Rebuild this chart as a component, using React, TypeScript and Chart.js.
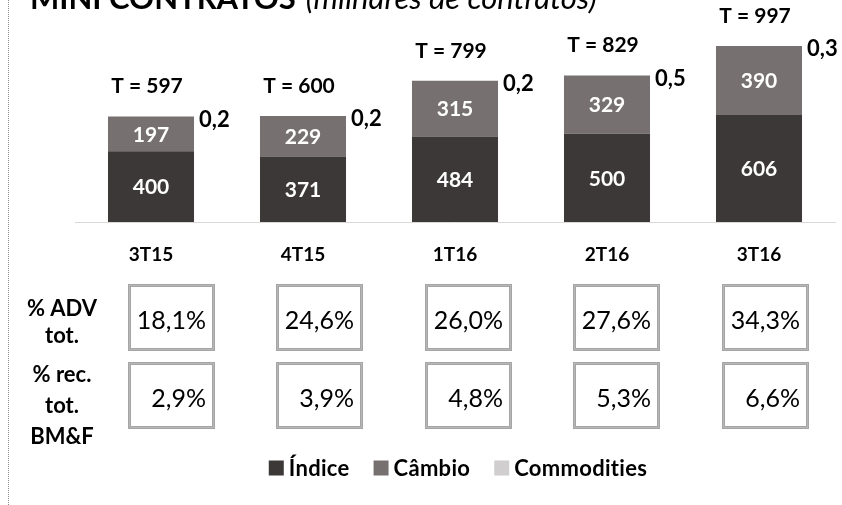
import React, { useEffect, useRef } from 'react';
import { Chart, registerables } from 'chart.js';

Chart.register(...registerables);

const categories = ['3T15', '4T15', '1T16', '2T16', '3T16'];
const indice = [400, 371, 484, 500, 606];
const cambio = [197, 229, 315, 329, 390];
const commodities = [0.2, 0.2, 0.2, 0.5, 0.3];
const totals = [597, 600, 799, 829, 997];
const commodityLabels = ['0,2', '0,2', '0,2', '0,5', '0,3'];
const advShare = ['18,1%', '24,6%', '26,0%', '27,6%', '34,3%'];
const revShare = ['2,9%', '3,9%', '4,8%', '5,3%', '6,6%'];
const rowLabelGroups = [['% ADV', 'tot.'], ['% rec.', 'tot.', 'BM&F']];
const titleBold = 'MINI CONTRATOS';
const titleItalic = '(milhares de contratos)';

const FONT = 'Lato, "Open Sans", sans-serif';

function checkerRect(ctx: any, left: number, top: number, w: number, h: number) {
  ctx.lineWidth = 1;
  for (let k = 0; k < 3; k++) {
    ctx.setLineDash([1, 1]);
    ctx.lineDashOffset = k % 2;
    ctx.strokeStyle = k === 1 ? '#6e6e6e' : '#4a4a4a';
    ctx.strokeRect(left + k + 0.5, top + k + 0.5, w - 2 * k - 1, h - 2 * k - 1);
  }
  ctx.setLineDash([]);
  ctx.lineDashOffset = 0;
}

const overlayPlugin = {
  id: 'overlay',
  afterDatasetsDraw(chart: any) {
    const ctx = chart.ctx;
    const area = chart.chartArea;
    const metaI = chart.getDatasetMeta(0);
    const metaC = chart.getDatasetMeta(1);
    const metaK = chart.getDatasetMeta(2);
    ctx.save();

    // left dotted border
    ctx.strokeStyle = '#8a8a8a';
    ctx.lineWidth = 1;
    ctx.setLineDash([1, 1]);
    ctx.beginPath();
    ctx.moveTo(8.5, 0);
    ctx.lineTo(8.5, chart.height);
    ctx.stroke();
    ctx.setLineDash([]);

    // title (clipped at top)
    ctx.fillStyle = '#000';
    ctx.textBaseline = 'alphabetic';
    ctx.textAlign = 'left';
    ctx.font = `bold 31px ${FONT}`;
    ctx.fillText(titleBold, 30, 9);
    const wBold = ctx.measureText(titleBold).width;
    ctx.font = `italic 31px ${FONT}`;
    ctx.fillText(titleItalic, 30 + wBold + 10, 9);

    // values inside bars
    ctx.fillStyle = '#fff';
    ctx.font = `bold 21px ${FONT}`;
    ctx.textAlign = 'center';
    ctx.textBaseline = 'middle';
    [metaI, metaC].forEach((meta: any, di: number) => {
      const vals = di === 0 ? indice : cambio;
      meta.data.forEach((el: any, i: number) => {
        const y = (el.y + el.base) / 2;
        ctx.fillText(String(vals[i]), el.x, y + 1);
      });
    });

    // commodities labels and totals
    ctx.fillStyle = '#000';
    metaK.data.forEach((el: any, i: number) => {
      const half = el.width / 2;
      ctx.font = `bold 22px ${FONT}`;
      ctx.textAlign = 'left';
      ctx.fillText(commodityLabels[i], el.x + half + 5, el.y + 3);
      ctx.font = `bold 21px ${FONT}`;
      ctx.textAlign = 'center';
      ctx.fillText('T = ' + totals[i], el.x - 4, el.y - 30);
    });

    // table boxes
    const rows = [advShare, revShare];
    const rowTops = [area.bottom + 62, area.bottom + 140];
    const boxW = 87;
    const boxH = 67;
    const pitch = (area.width / categories.length) * 0.977;
    const firstCenter = area.left + 96;
    rows.forEach((row, r) => {
      row.forEach((txt, i) => {
        const cx = firstCenter + i * pitch;
        const left = Math.round(cx - boxW / 2);
        const top = rowTops[r];
        ctx.fillStyle = '#fff';
        ctx.fillRect(left, top, boxW, boxH);
        checkerRect(ctx, left, top, boxW, boxH);
        ctx.fillStyle = '#000';
        ctx.font = `25px ${FONT}`;
        ctx.textAlign = 'right';
        ctx.textBaseline = 'middle';
        ctx.fillText(txt, left + boxW - 9, top + boxH / 2 + 3);
      });
    });

    // row labels
    ctx.fillStyle = '#000';
    ctx.font = `bold 22px ${FONT}`;
    ctx.textAlign = 'center';
    ctx.textBaseline = 'middle';
    const groupStarts = [area.bottom + 87, area.bottom + 153];
    const groupSteps = [27, 31];
    rowLabelGroups.forEach((lines, g) => {
      lines.forEach((line, k) => {
        ctx.fillText(line, 62, groupStarts[g] + k * groupSteps[g]);
      });
    });

    // legend
    const items = chart.data.datasets.map((d: any) => ({ label: d.label, color: d.backgroundColor }));
    ctx.font = `bold 22px ${FONT}`;
    try { ctx.letterSpacing = '0.3px'; } catch (e) {}
    const box = 15;
    const gapText = 5;
    const gapItem = 24;
    const widths = items.map((it: any) => box + gapText + ctx.measureText(it.label).width);
    const total = widths.reduce((a: number, b: number) => a + b, 0) + gapItem * (items.length - 1);
    let x = (area.left + area.right) / 2 + 3 - total / 2;
    const ly = 468;
    ctx.textAlign = 'left';
    items.forEach((it: any, k: number) => {
      ctx.fillStyle = it.color;
      ctx.fillRect(x, ly - box / 2, box, box);
      ctx.fillStyle = '#000';
      ctx.fillText(it.label, x + box + gapText, ly + 1);
      x += widths[k] + gapItem;
    });
    try { ctx.letterSpacing = '0px'; } catch (e) {}

    ctx.restore();
  },
};

export default function App() {
  const ref = useRef<HTMLCanvasElement>(null);
  useEffect(() => {
    if (!ref.current) return;
    const chart = new Chart(ref.current, {
      type: 'bar',
      data: {
        labels: categories,
        datasets: [
          { label: 'Índice', data: indice, backgroundColor: '#3b3837', borderWidth: 0 },
          { label: 'Câmbio', data: cambio, backgroundColor: '#767170', borderWidth: 0 },
          { label: 'Commodities', data: commodities, backgroundColor: '#d0cece', borderWidth: 0 },
        ],
      },
      options: {
        responsive: false,
        animation: false,
        layout: { padding: { left: 75, right: 7, top: 10, bottom: 0 } },
        plugins: { legend: { display: false }, tooltip: { enabled: false }, title: { display: false } },
        datasets: { bar: { categoryPercentage: 1, barPercentage: 0.566 } },
        scales: {
          x: {
            stacked: true,
            grid: { display: false, drawTicks: false },
            border: { display: true, color: '#d9d9d9', width: 1 },
            ticks: { color: '#000', font: { family: FONT, size: 19, weight: 'bold' }, padding: 21 },
            afterFit: (scale: any) => {
              scale.height = 283;
            },
          },
          y: { stacked: true, display: false, min: 0, max: 1200 },
        },
      },
      plugins: [overlayPlugin],
    } as any);
    return () => chart.destroy();
  }, []);
  return (
    <div style={{ position: 'fixed', left: 0, top: 0, width: 842, height: 505, background: '#fff' }}>
      <canvas ref={ref} width={842} height={505} style={{ display: 'block' }} />
    </div>
  );
}
